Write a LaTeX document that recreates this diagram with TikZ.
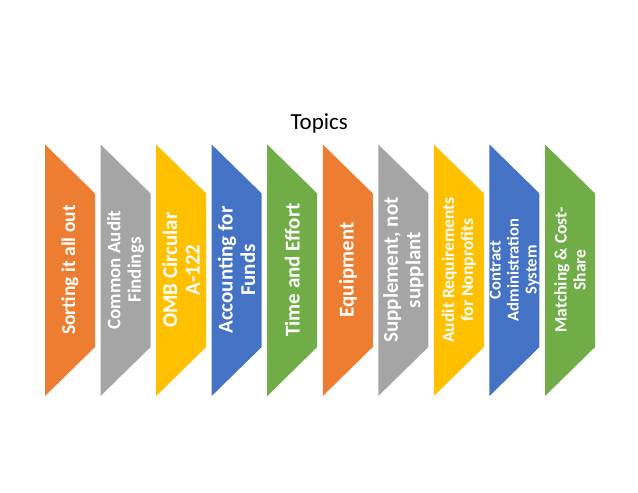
\documentclass[tikz,border=0pt]{standalone}
\usepackage{fontspec}
\setmainfont{Carlito}
\definecolor{cOrange}{HTML}{ED7D31}
\definecolor{cGray}{HTML}{A5A5A5}
\definecolor{cYellow}{HTML}{FFC000}
\definecolor{cBlue}{HTML}{4472C4}
\definecolor{cGreen}{HTML}{70AD47}
\tikzset{
  lbl/.style={text=white, font=\bfseries, rotate=90, align=center, inner sep=0pt},
}
\newcommand{\fsz}[1]{\fontsize{#1}{#1*1.08}\selectfont}
\begin{document}
\begin{tikzpicture}[x=1pt,y=-1pt]
\useasboundingbox (0,0) rectangle (638,493);
\fill[white] (0,0) rectangle (638,493);
\node[anchor=base, inner sep=0pt, font=\fontsize{23}{27}\selectfont] (title) at (319.2,129.7) {Topics};
\foreach \i/\col in {0/cOrange,1/cGray,2/cYellow,3/cBlue,4/cGreen,5/cOrange,6/cGray,7/cYellow,8/cBlue,9/cGreen}{
  \pgfmathsetmacro{\xa}{45+\i*55.56}
  \pgfmathsetmacro{\xb}{\xa+50}
  \fill[\col] (\xa,144.5) -- (\xb,193.5) -- (\xb,347) -- (\xa,396) -- cycle;
  \coordinate (c\i) at (\xa+25,270);
}
\node[lbl, font=\bfseries\fontsize{19.5}{21}\selectfont] (t0) at (c0) {Sorting it all out};
\node[lbl, font=\bfseries\fontsize{19}{20.5}\selectfont] (t1) at (c1) {Common Audit\\Findings};
\node[lbl, font=\bfseries\fontsize{21}{22.5}\selectfont] (t2) at (c2) {OMB Circular\\A-122};
\node[lbl, font=\bfseries\fontsize{21}{22.5}\selectfont] (t3) at (c3) {Accounting for\\Funds};
\node[lbl, font=\bfseries\fontsize{21}{22.5}\selectfont] (t4) at (c4) {Time and Effort};
\node[lbl, font=\bfseries\fontsize{21}{22.5}\selectfont] (t5) at (c5) {Equipment};
\node[lbl, font=\bfseries\fontsize{21}{22.5}\selectfont] (t6) at (c6) {Supplement, not\\supplant};
\node[lbl, font=\bfseries\fontsize{17.5}{19}\selectfont] (t7) at (c7) {Audit Requirements\\for Nonprofits};
\node[lbl, font=\bfseries\fontsize{16.6}{18}\selectfont] (t8) at (c8) {Contract\\Administration\\System};
\node[lbl, font=\bfseries\fontsize{17.5}{19}\selectfont] (t9) at (c9) {Matching \& Cost-\\Share};
\end{tikzpicture}
\end{document}
